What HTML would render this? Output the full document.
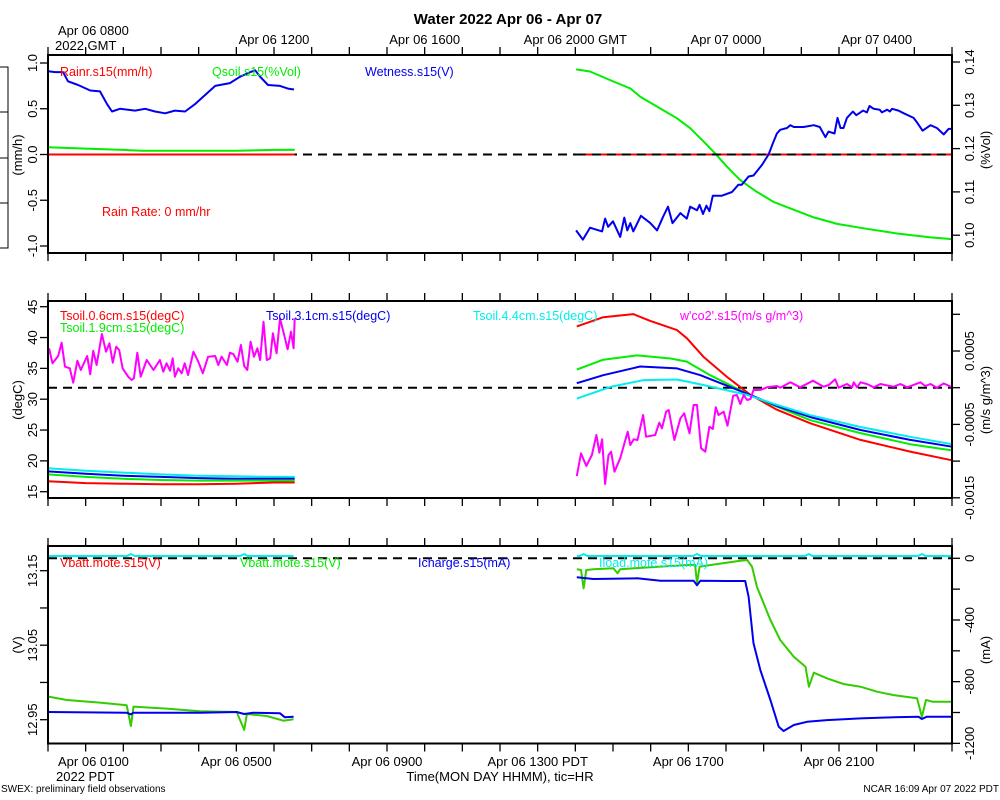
<!DOCTYPE html>
<html><head><meta charset="utf-8"><style>
html,body{margin:0;padding:0;background:#fff;}
svg{display:block;font-family:"Liberation Sans",sans-serif;}
</style></head><body>
<svg id="chart" width="1000" height="800" viewBox="0 0 1000 800" xmlns="http://www.w3.org/2000/svg">
<rect x="0" y="0" width="1000" height="800" fill="#fff"/>
<text x="508" y="24" font-size="15" font-weight="bold" text-anchor="middle">Water 2022 Apr 06 - Apr 07</text>
<g stroke="#000" stroke-width="1" fill="none">
<path d="M0 67H8V248H0M0 112H8M0 158H8M0 203H8"/>
</g>
<g id="layer"></g>
<text x="1" y="792" font-size="10">SWEX: preliminary field observations</text>
<text x="999" y="792" font-size="10" text-anchor="end">NCAR 16:09 Apr 07 2022 PDT</text>
<text x="500" y="781" font-size="13" text-anchor="middle">Time(MON DAY HHMM), tic=HR</text>
</svg>
<script>
// ---------- data (time in hours since Apr 06 00:00 PDT) ----------
const rainT1=[0,6.55], rainV1=[0,0];
const rainT2=[14.04,24], rainV2=[0,0];
const wetT1=[0,0.19,0.4,0.53,0.8,1.12,1.38,1.57,1.7,1.91,2.31,2.58,2.84,3.11,3.37,3.64,3.9,4.17,4.44,4.83,5.1,5.37,5.5,5.63,5.84,6.16,6.37,6.53];
const wetV1=[0.91,0.9,0.9,0.8,0.76,0.7,0.69,0.55,0.47,0.5,0.48,0.5,0.47,0.45,0.48,0.47,0.55,0.65,0.75,0.78,0.85,0.9,0.92,0.85,0.76,0.75,0.72,0.71];
const wetT2=[14.02,14.2,14.39,14.71,14.79,14.87,15.0,15.19,15.3,15.38,15.46,15.54,15.74,15.99,16.17,16.33,16.46,16.58,16.79,16.96,17.05,17.23,17.3,17.39,17.48,17.56,17.65,17.89,18.16,18.33,18.42,18.6,18.73,18.96,19.13,19.26,19.35,19.44,19.62,19.71,19.8,20.06,20.33,20.49,20.64,20.72,20.88,20.96,21.04,21.12,21.21,21.37,21.46,21.64,21.74,21.81,21.92,22.08,22.14,22.28,22.35,22.41,22.58,22.72,22.98,23.09,23.22,23.43,23.6,23.78,23.91,24.0];
const wetV2=[-0.83,-0.93,-0.8,-0.84,-0.7,-0.79,-0.73,-0.9,-0.69,-0.83,-0.75,-0.84,-0.67,-0.75,-0.83,-0.68,-0.57,-0.75,-0.64,-0.7,-0.57,-0.61,-0.55,-0.65,-0.56,-0.62,-0.45,-0.45,-0.41,-0.33,-0.33,-0.24,-0.23,-0.11,0.0,0.14,0.23,0.27,0.29,0.32,0.3,0.3,0.32,0.3,0.19,0.25,0.23,0.4,0.29,0.29,0.4,0.47,0.43,0.48,0.46,0.53,0.5,0.49,0.46,0.49,0.47,0.5,0.48,0.45,0.4,0.34,0.26,0.32,0.29,0.22,0.28,0.28];
const qsT1=[0,1,2,2.5,4,5,6,6.55];
const qsV1=[0.1203,0.12,0.1197,0.1195,0.1195,0.1195,0.1197,0.1197];
const qsT2=[14.02,14.39,15.01,15.46,15.72,16.17,16.7,17.05,17.41,17.72,18.03,18.38,18.82,19.26,19.71,20.33,20.95,21.65,22.54,23.43,24.0];
const qsV2=[0.1383,0.1378,0.1355,0.1339,0.132,0.1297,0.127,0.1247,0.1216,0.1188,0.1158,0.1127,0.11,0.1077,0.1062,0.1041,0.1026,0.1016,0.1004,0.0995,0.0991];

const tsT1=[0,1,2,3,4,5,6,6.55];
const ts06V1=[16.7,16.4,16.3,16.2,16.2,16.3,16.5,16.5];
const ts19V1=[17.8,17.4,17.1,16.9,16.8,16.8,16.8,16.8];
const ts31V1=[18.3,17.9,17.6,17.4,17.2,17.1,17.1,17.1];
const ts44V1=[18.8,18.4,18.1,17.8,17.6,17.5,17.4,17.4];
const ts06T2=[14.04,14.74,15.54,15.99,16.7,16.96,17.4,18.03,18.65,19.35,20.24,21.57,22.89,24.0];
const ts06V2=[41.8,43.3,43.8,42.7,41.2,39.9,36.9,33.6,30.7,28.3,26.1,23.4,21.5,20.1];
const ts19T2=[14.04,14.74,15.64,16.53,16.96,17.58,18.56,19.35,20.24,21.57,22.89,24.0];
const ts19V2=[34.8,36.4,37.1,36.6,36.1,33.9,30.9,28.8,26.6,24.5,22.7,21.7];
const ts31T2=[14.04,14.74,15.72,16.7,17.32,18.56,19.35,20.24,21.57,22.89,24.0];
const ts31V2=[32.6,33.9,35.3,35.0,33.9,30.9,28.9,27.1,25.0,23.4,22.3];
const ts44T2=[14.04,14.93,15.81,16.7,17.4,18.56,19.35,20.24,21.57,22.89,24.0];
const ts44V2=[30.1,32.0,33.1,33.2,32.3,30.7,29.1,27.4,25.5,23.9,22.7];
// w'co2' in units of 1e-4 m/s g/m^3
const co2T1=[0.03,0.12,0.27,0.36,0.45,0.58,0.67,0.78,0.87,1.04,1.12,1.2,1.29,1.43,1.54,1.63,1.72,1.81,1.89,1.98,2.13,2.22,2.28,2.37,2.46,2.62,2.8,2.97,3.06,3.15,3.24,3.31,3.37,3.46,3.55,3.63,3.72,3.86,3.99,4.11,4.25,4.44,4.52,4.61,4.75,4.83,4.92,5.03,5.12,5.21,5.29,5.38,5.47,5.56,5.63,5.72,5.81,5.9,5.97,6.07,6.16,6.27,6.36,6.45,6.52,6.55];
const co2V1=[5.37,3.32,4.32,6.13,2.86,2.64,0.68,3.68,2.41,4.32,1.83,5.04,3.09,7.32,4.9,6.05,3.41,5.59,5.14,2.64,1.5,1.05,1.28,4.77,1.5,3.77,2.41,3.77,2.18,3.32,2.32,4.0,1.5,2.64,1.96,3.32,1.73,4.9,3.54,1.96,4.22,4.32,3.09,4.22,3.09,4.77,4.59,3.54,5.82,2.96,2.41,6.27,4.22,5.37,3.77,8.99,3.77,4.0,7.41,4.69,9.45,7.18,5.23,7.63,5.37,9.45];
const co2T2=[14.04,14.15,14.29,14.44,14.56,14.64,14.71,14.79,14.88,14.95,15.04,15.19,15.39,15.46,15.55,15.65,15.8,15.88,16.12,16.23,16.3,16.41,16.48,16.63,16.79,16.89,17.03,17.14,17.23,17.34,17.45,17.56,17.65,17.73,17.8,17.94,18.04,18.19,18.29,18.38,18.47,18.56,18.65,18.73,18.91,19.09,19.35,19.44,19.71,19.97,20.31,20.59,20.73,20.9,20.99,21.21,21.35,21.39,21.48,21.57,21.74,21.92,22.1,22.45,22.63,22.81,23.16,23.29,23.43,23.6,23.78,24.0];
const co2V2=[-12.03,-8.94,-10.67,-9.17,-6.44,-8.86,-7.03,-13.12,-9.17,-8.72,-11.44,-9.62,-5.99,-7.81,-7.03,-7.12,-3.72,-6.68,-6.44,-4.77,-5.53,-3.27,-3.04,-7.12,-4.17,-3.49,-6.21,-2.36,-2.36,-8.26,-8.72,-5.31,-5.63,-2.67,-3.72,-3.27,-5.18,-1.09,-1.0,-2.22,-0.99,-1.68,-1.54,-0.31,-0.31,0.05,0.23,0,0.74,0.05,0.95,0.14,0.37,1.14,0,0.5,0.05,0.74,0.05,0.74,0.5,0.05,0.5,0.14,0.5,0.05,0.74,0.23,0.5,0,0.59,0.05];

const vgT1=[0.01,0.5,1.38,2.09,2.2,2.27,3.15,4.04,5.01,5.21,5.28,5.81,6.25,6.52];
const vgV1=[-897,-919,-936,-953,-1088,-962,-975,-992,-997,-1113,-1010,-1023,-1053,-1044];
const icT1=[0.01,2.09,2.2,2.27,4.04,5.01,5.21,5.45,6.16,6.29,6.52];
const icV1=[-997,-1001,-1012,-1001,-1001,-997,-1010,-1001,-1005,-1031,-1027];
const ilT1=[0.01,2.1,2.2,2.3,5.1,5.21,5.3,6.52];
const ilV1=[15,15,28,15,15,28,15,15];
const vgT2=[14.04,14.15,14.22,14.29,14.48,15.01,15.12,15.19,16.26,17.05,17.18,17.23,17.3,18.03,18.38,18.56,18.69,18.82,19.18,19.44,19.8,20.11,20.2,20.33,20.68,21.12,21.57,22.01,22.45,23.07,23.2,23.31,23.48,24.0];
const vgV2=[-71,-76,-195,-76,-71,-65,-97,-71,-54,-43,-43,-162,-54,-28,-16,-11,-54,-184,-400,-530,-638,-703,-833,-742,-778,-815,-833,-865,-887,-908,-1027,-919,-930,-930];
const icT2=[14.04,14.48,15.64,16.26,17.14,17.23,17.32,18.03,18.51,18.6,18.73,18.91,19.18,19.4,19.53,19.8,20.15,20.68,21.57,22.45,23.11,23.2,23.33,24.0];
const icV2=[-123,-134,-130,-145,-145,-175,-145,-147,-147,-249,-551,-724,-919,-1092,-1120,-1081,-1060,-1049,-1038,-1031,-1027,-1042,-1027,-1027];
const ilT2=[14.04,14.12,14.22,14.32,17.13,17.23,17.33,20.1,20.2,20.3,23.1,23.2,23.3,24.0];
const ilV2=[15,15,28,15,15,28,15,15,28,15,15,28,15,15];

const gmtLabels=["Apr 06 1200","Apr 06 1600","Apr 06 2000 GMT","Apr 07 0000","Apr 07 0400"];
const gmtHours=[5,9,13,17,21];
const pdtLabels=["Apr 06 0500","Apr 06 0900","Apr 06 1300 PDT","Apr 06 1700","Apr 06 2100"];
const pdtHours=[5,9,13,17,21];

// ---------- scales ----------
const X0=48, X1=952;
const xS=h=>X0+h*(X1-X0)/24;
const P=[{top:55,bot:253},{top:301,bot:498},{top:546,bot:743.5}];
const y1L=v=>154.5-v*91.5;
const y1R=v=>62+(0.14-v)*4330;
const y2L=t=>306.7+(45-t)*6.167;
const y2R=v=>387.7-v*7.34; // v in 1e-4
const y3L=v=>570.7+(13.15-v)*745;
const y3R=v=>558.3-v*0.1542;

const NS="http://www.w3.org/2000/svg";
const layer=document.getElementById('layer');
function mk(tag,attrs,parent){const e=document.createElementNS(NS,tag);for(const k in attrs)e.setAttribute(k,attrs[k]);(parent||layer).appendChild(e);return e;}
function line(T,V,ys,color,name){
  const d=T.map((t,i)=>(i?'L':'M')+xS(t).toFixed(1)+' '+ys(V[i]).toFixed(1)).join('');
  const p=mk('path',{d:d,fill:'none',stroke:color,'stroke-width':'2','stroke-linejoin':'round'});
  
  
  return p;
}
function txt(x,y,s,opts,name){
  const t=mk('text',Object.assign({x:x,y:y,'font-size':'12.5'},opts||{}));
  t.textContent=s;
  
  
  return t;
}
function rtxt(x,y,s,name){
  const t=mk('text',{x:0,y:0,'font-size':'13','text-anchor':'middle',transform:`translate(${x},${y}) rotate(-90)`});
  t.textContent=s;
  
  
  return t;
}
function dashed(y){
  const l=mk('line',{x1:X0,x2:X1,y1:y,y2:y,stroke:'#000','stroke-width':'2','stroke-dasharray':'9,6'});
  
  
}

P.forEach((p,pi)=>{
  for(let h=0;h<=24;h++){
    const x=xS(h);
    mk('line',{x1:x,x2:x,y1:p.bot,y2:p.bot+8,stroke:'#000','stroke-width':'1.3'});
    mk('line',{x1:x,x2:x,y1:p.top-8,y2:p.top,stroke:'#000','stroke-width':'1.3'});
  }
});
function leftTicks(vals,ys,labels,name){vals.forEach((v,i)=>{const y=ys(v);mk('line',{x1:40,x2:X0,y1:y,y2:y,stroke:'#000','stroke-width':'1.3'});if(labels[i])rtxt(37,y,labels[i],name);});}
function rightTicks(vals,ys,labels,name){vals.forEach((v,i)=>{const y=ys(v);mk('line',{x1:X1,x2:X1+8,y1:y,y2:y,stroke:'#000','stroke-width':'1.3'});if(labels[i])rtxt(974,y,labels[i],name);});}

// Panel 1
dashed(y1L(0));
line(qsT1,qsV1,y1R,'#00ee00','qsoil-line');
line(qsT2,qsV2,y1R,'#00ee00','qsoil-line');
line(rainT1,rainV1,y1L,'#ff0000','rain-rate-line');
line(rainT2,rainV2,y1L,'#ff0000','rain-rate-line');
mk('line',{x1:xS(14.04),x2:X1,y1:y1L(0),y2:y1L(0),stroke:'#000','stroke-width':'2','stroke-dasharray':'9,6'});
line(wetT1,wetV1,y1L,'#0000ee','wetness-line');
line(wetT2,wetV2,y1L,'#0000ee','wetness-line');
leftTicks([1,0.5,0,-0.5,-1],y1L,['1.0','0.5','0.0','-0.5','-1.0'],'y-tick-label');
rightTicks([0.14,0.13,0.12,0.11,0.10],y1R,['0.14','0.13','0.12','0.11','0.10'],'y2-tick-label');
rtxt(22,155,'(mm/h)','y-axis-title-mmh');
rtxt(990,150,'(%Vol)','y2-axis-title-vol');
txt(60,76,'Rainr.s15(mm/h)',{fill:'#ff0000'},'legend-rainr');
txt(212,76,'Qsoil.s15(%Vol)',{fill:'#00ee00'},'legend-qsoil');
txt(365,76,'Wetness.s15(V)',{fill:'#0000ee'},'legend-wetness');
txt(102,216,'Rain Rate: 0 mm/hr',{fill:'#ff0000'},'rain-rate-note');

// Panel 2
dashed(y2R(0));
line(tsT1,ts44V1,y2L,'#00eeee','tsoil-4.4cm-line');
line(tsT1,ts31V1,y2L,'#0000ee','tsoil-3.1cm-line');
line(tsT1,ts19V1,y2L,'#00ee00','tsoil-1.9cm-line');
line(tsT1,ts06V1,y2L,'#ff0000','tsoil-0.6cm-line');
line(ts06T2,ts06V2,y2L,'#ff0000','tsoil-0.6cm-line');
line(ts19T2,ts19V2,y2L,'#00ee00','tsoil-1.9cm-line');
line(ts31T2,ts31V2,y2L,'#0000ee','tsoil-3.1cm-line');
line(ts44T2,ts44V2,y2L,'#00eeee','tsoil-4.4cm-line');
line(co2T1,co2V1,y2R,'#ff00ff','wco2-line');
line(co2T2,co2V2,y2R,'#ff00ff','wco2-line');
leftTicks([45,40,35,30,25,20,15],y2L,['45','40','35','30','25','20','15'],'y-tick-label');
rightTicks([10,5,0,-5,-10,-15],y2R,['','0.0005','','-0.0005','','-0.0015'],'y2-tick-label');
rtxt(22,400,'(degC)','y-axis-title-degc');
rtxt(990,400,'(m/s g/m^3)','y2-axis-title-flux');
txt(60,320,'Tsoil.0.6cm.s15(degC)',{fill:'#ff0000'},'legend-tsoil-0.6');
txt(60,332,'Tsoil.1.9cm.s15(degC)',{fill:'#00ee00'},'legend-tsoil-1.9');
txt(266,320,'Tsoil.3.1cm.s15(degC)',{fill:'#0000ee'},'legend-tsoil-3.1');
txt(473,320,'Tsoil.4.4cm.s15(degC)',{fill:'#00eeee'},'legend-tsoil-4.4');
txt(680,320,"w'co2'.s15(m/s g/m^3)",{fill:'#ff00ff'},'legend-wco2');

// Panel 3
line(ilT1,ilV1,y3R,'#00eeee','iload-line');
line(ilT2,ilV2,y3R,'#00eeee','iload-line');
dashed(y3R(0));
line(vgT1,vgV1,y3R,'#33cc00','vbatt-green-line');
line(vgT2,vgV2,y3R,'#33cc00','vbatt-green-line');
line(icT1,icV1,y3R,'#0000ee','icharge-line');
line(icT2,icV2,y3R,'#0000ee','icharge-line');
leftTicks([13.15,13.10,13.05,13.00,12.95],y3L,['13.15','','13.05','','12.95'],'y-tick-label');
rightTicks([0,-200,-400,-600,-800,-1000,-1200],y3R,['0','','-400','','-800','','-1200'],'y2-tick-label');
rtxt(22,645,'(V)','y-axis-title-volts');
rtxt(990,650,'(mA)','y2-axis-title-ma');
txt(60,567,'Vbatt.mote.s15(V)',{fill:'#ff0000'},'legend-vbatt-red');
txt(240,567,'Vbatt.mote.s15(V)',{fill:'#00ee00'},'legend-vbatt-green');
txt(418,567,'Icharge.s15(mA)',{fill:'#0000ee'},'legend-icharge');
txt(599,567,'Iload.mote.s15(mA)',{fill:'#00eeee'},'legend-iload');

P.forEach(p=>{mk('rect',{x:X0,y:p.top,width:X1-X0,height:p.bot-p.top,fill:'none',stroke:'#000','stroke-width':'2'});});

txt(58,35,'Apr 06 0800',{'font-size':'13'},'top-x-tick-label');
txt(55,50,'2022 GMT',{'font-size':'13'},'top-x-tick-label');
gmtLabels.forEach((s,i)=>txt(xS(gmtHours[i]+1),44,s,{'font-size':'13','text-anchor':'middle'},'top-x-tick-label'));
txt(58,766,'Apr 06 0100',{'font-size':'13'},'x-tick-label');
txt(56,781,'2022 PDT',{'font-size':'13'},'x-tick-label');
pdtLabels.forEach((s,i)=>txt(xS(pdtHours[i]),766,s,{'font-size':'13','text-anchor':'middle'},'x-tick-label'));
</script>
</body></html>
